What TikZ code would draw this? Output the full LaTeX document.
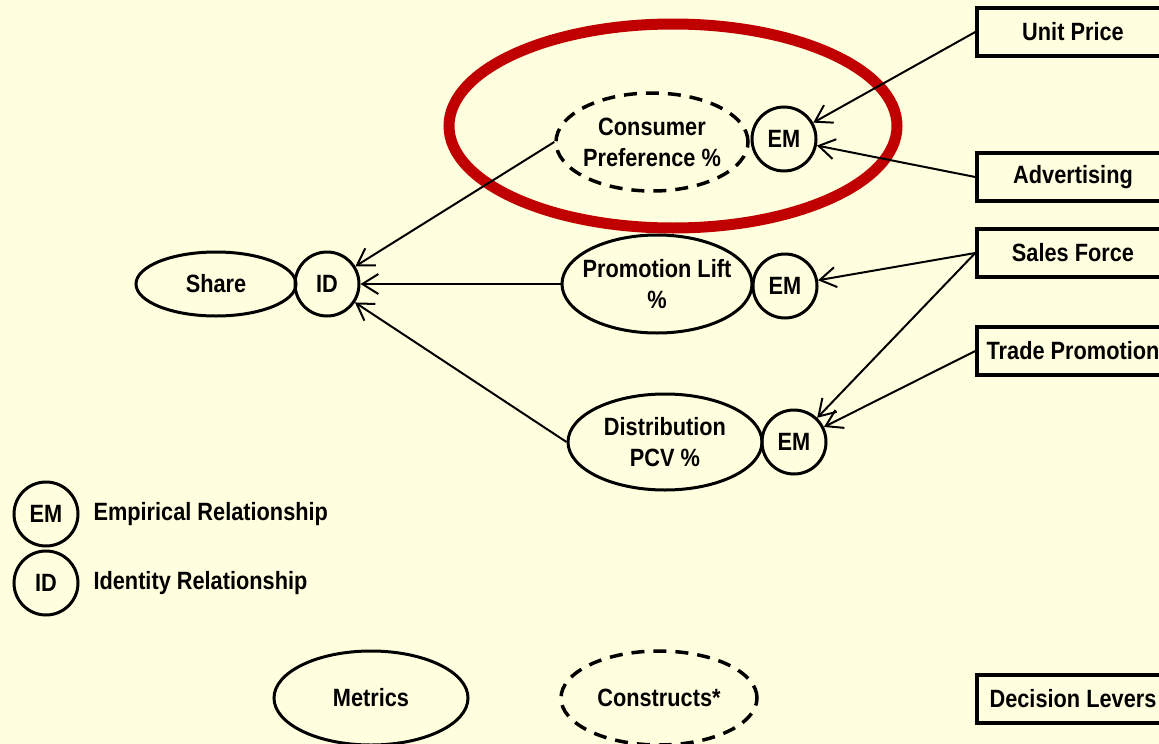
\documentclass[tikz,border=0pt]{standalone}
\usepackage{fontspec}
\setmainfont{Liberation Sans}[FakeStretch=0.87]
\usetikzlibrary{arrows.meta,shapes.geometric}
\definecolor{bgyellow}{HTML}{FFFFE0}
\definecolor{hired}{HTML}{C00000}
\tikzset{
  lbl/.style={font=\bfseries\fontsize{25}{31}\selectfont, align=center},
  metric/.style={lbl, ellipse, draw, line width=3pt, inner xsep=-25pt, inner ysep=-8pt},
  construct/.style={metric, line width=3.5pt, dash pattern=on 13pt off 9pt},
  rel/.style={lbl, circle, draw, line width=3pt, inner sep=0pt, minimum size=64pt},
  lever/.style={lbl, rectangle, draw, line width=3.5pt, minimum width=192pt, minimum height=48pt, inner sep=0pt},
  conn/.style={line width=2pt, -{Straight Barb[length=16pt,width=20pt]}},
  legendtxt/.style={lbl, anchor=west}
}
\begin{document}
\begin{tikzpicture}[x=1pt,y=-1pt]
\fill[bgyellow] (0,0) rectangle (1159,744);
\useasboundingbox (0,0) rectangle (1159,744);

% highlight
\node[ellipse, draw=hired, line width=11pt, minimum width=448pt, minimum height=204pt, inner sep=0pt] (hl) at (673,126) {};

% metrics and constructs
\node[construct, minimum width=192pt, minimum height=98pt] (cp) at (652,142) {Consumer\\Preference \%};
\node[metric, minimum width=160pt, minimum height=64pt] (share) at (216,284) {Share};
\node[metric, minimum width=190pt, minimum height=98pt] (pl) at (657,284) {Promotion Lift\\\%};
\node[metric, minimum width=194pt, minimum height=96pt] (dist) at (665,442) {Distribution\\PCV \%};

% relationships
\node[rel] (em1) at (784,139) {EM};
\node[rel] (id) at (327,284) {ID};
\node[rel] (em2) at (785,286) {EM};
\node[rel] (em3) at (794,442) {EM};

% levers
\node[lever] (up) at (1073,32) {Unit Price};
\node[lever] (adv) at (1073,177) {Advertising};
\node[lever] (sf) at (1073,253) {Sales Force};
\node[lever] (tp) at (1073,351) {Trade Promotion};

% connectors
\draw[conn] (cp.west) -- (id);
\draw[conn] (pl.west) -- (id);
\draw[conn] (dist.west) -- (id);
\draw[conn] (up.west) -- (em1);
\draw[conn] (adv.west) -- (em1);
\draw[conn] (sf.west) -- (em2);
\draw[conn] (sf.west) -- (em3);
\draw[conn] (tp.west) -- (em3);

% legend
\node[rel] (lem) at (46,514) {EM};
\node[legendtxt] (lemt) at (90,514) {Empirical Relationship};
\node[rel] (lid) at (46,583) {ID};
\node[legendtxt] (lidt) at (90,583) {Identity Relationship};

\node[metric, minimum width=194pt, minimum height=94pt] (lmet) at (371,698) {Metrics};
\node[construct, minimum width=196pt, minimum height=94pt] (lcon) at (659,698) {Constructs*};
\node[lever] (llev) at (1073,699) {Decision Levers};
\end{tikzpicture}
\end{document}
